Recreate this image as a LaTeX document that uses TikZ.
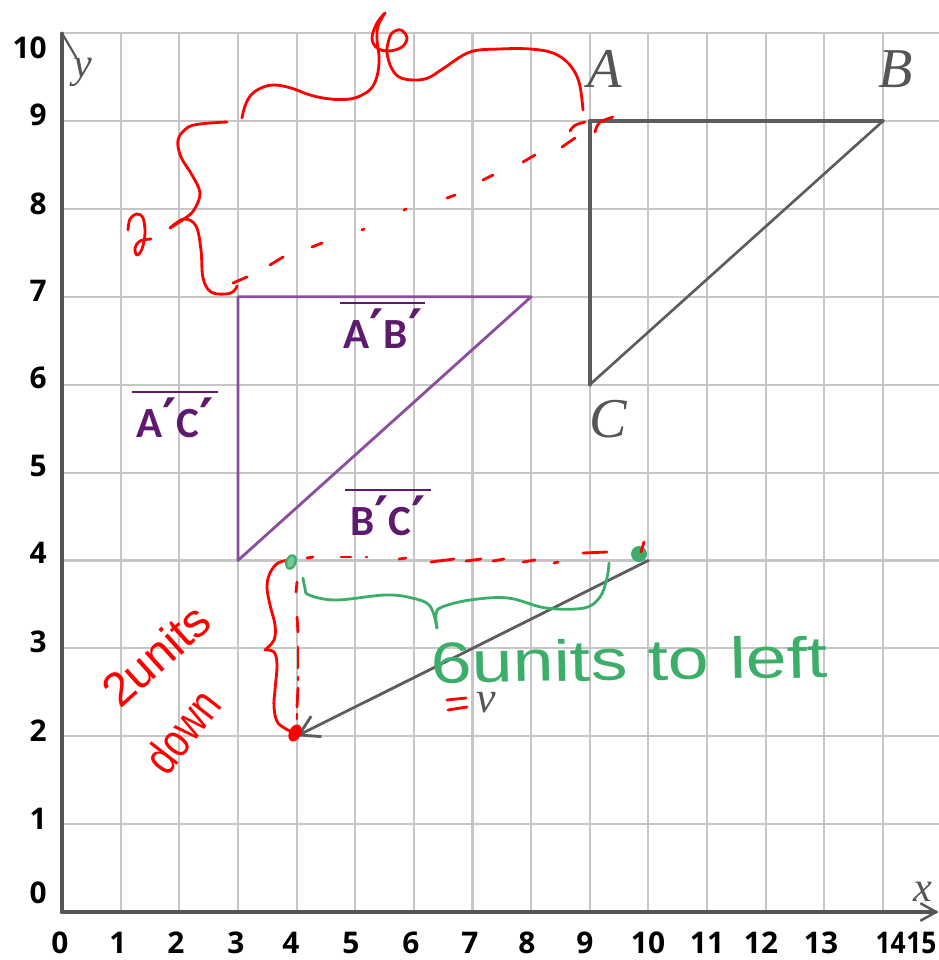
\documentclass[tikz,border=0pt]{standalone}
\usepackage{fontspec}
\setmainfont{Liberation Serif}
\newfontfamily\numfont{Open Sans}
\newfontfamily\labfont{Carlito}
\newfontfamily\primefont{DejaVu Sans}
\newfontfamily\handfont{Liberation Sans}
\newcommand{\pr}{{\primefont\bfseries\fontsize{31}{31}\selectfont ′}}
\usetikzlibrary{arrows.meta}
\definecolor{gridc}{HTML}{C6C6C6}
\definecolor{axisc}{HTML}{555555}
\definecolor{tric}{HTML}{5C5C5C}
\definecolor{purp}{HTML}{8A4E9C}
\definecolor{purpl}{HTML}{5E1A6E}
\definecolor{hred}{HTML}{FF0000}
\definecolor{hgreen}{HTML}{3DAE6A}
\begin{document}
\begin{tikzpicture}[x=0.02cm,y=-0.02cm,line cap=round,line join=round,
  gridline/.style={gridc,line width=1.2pt},
  hand/.style={hred,line width=1.6pt},
  ghand/.style={hgreen,line width=1.6pt},
  num/.style={font=\numfont\bfseries\fontsize{17}{17}\selectfont,text=black,inner sep=0pt},
  ital/.style={font=\itshape\fontsize{32}{32}\selectfont,text=axisc,inner sep=0pt},
  seglab/.style={font=\labfont\bfseries\fontsize{24.5}{24.5}\selectfont,text=purpl,inner sep=0pt,anchor=base},
  ovl/.style={purpl,line width=1.7pt,line cap=butt}]
\useasboundingbox (0,0) rectangle (939,960);
\fill[white] (0,0) rectangle (939,960);
% ---------- data frame ----------
\begin{scope}[shift={(62,912)},x=1.173cm,y=1.758cm]
  \foreach \i in {1,...,14} \draw[gridline] (\i,0) -- (\i,10);
  \foreach \j in {1,...,10} \draw[gridline] (0,\j) -- (14.95,\j);
  \coordinate (O) at (0,0);
  \coordinate (Yt) at (0,10);
  \coordinate (Xt) at (14.95,0);
  \draw[axisc,line width=1.8pt] (O) -- (Yt);
  \draw[axisc,line width=2.6pt,-{Straight Barb[length=9pt,width=10pt,line width=1.4pt]}] (O) -- (Xt);
  % triangle ABC
  \coordinate (A) at (9,9);
  \coordinate (B) at (14,9);
  \coordinate (C) at (9,6);
  \draw[tric,line width=2.2pt] (C) -- (A);
  \draw[tric,line width=2pt] (A) -- (B);
  \draw[tric,line width=1.5pt] (B) -- (C);
  % triangle A'B'C'
  \coordinate (Ap) at (3,7);
  \coordinate (Bp) at (8,7);
  \coordinate (Cp) at (3,4);
  \draw[purp,line width=1.6pt] (Ap) -- (Bp) -- (Cp) -- cycle;
  % vector v
  \coordinate (V1) at (10,4);
  \coordinate (V2) at (4,2);
  \draw[tric,line width=1.6pt,-{Straight Barb[length=11pt,width=13pt]}] (V1) -- (V2);
\end{scope}
\draw[axisc,line width=1.2pt] (Yt) -- (76,57);
% ---------- axis numbers ----------
\foreach \v/\yy in {10/48,9/115,8/204,7/291,6/378,5/466,4/553,3/642,2/731,1/819,0/893}
  \node[num,anchor=east] (ylab\v) at (47,\yy) {\v};
\foreach \v/\xx in {0/60,1/118,2/176,3/236,4/291,5/351,6/411,7/470,8/527,9/585,10/648,11/707,12/761,13/821}
  \node[num,anchor=base] (xlab\v) at (\xx,953) {\v};
\node[num,anchor=base east,xscale=0.88] (xlab14) at (906,953) {14};
\node[num,anchor=base west,xscale=0.88] (xlab15) at (906,953) {15};
% axis letters
\node[ital,font=\itshape\fontsize{24}{24}\selectfont] (ylet) at (83,72) {y};
\node[ital,font=\itshape\fontsize{24}{24}\selectfont] (xlet) at (923,892) {x};
% ---------- vertex labels ----------
\node[ital] (labA) at (605,69) {A};
\node[ital] (labB) at (896,69) {B};
\node[ital] (labC) at (608,419) {C};
\node[ital,font=\itshape\fontsize{25}{25}\selectfont] (labv) at (486,703) {v};
% ---------- segment labels ----------
\node[seglab] (lAB) at (383,348) {A\pr B\pr};
\node[seglab] (lAC) at (175,437) {A\pr C\pr};
\node[seglab] (lBC) at (388,535) {B\pr C\pr};
\draw[ovl] (340,303) -- (425,303);
\draw[ovl] (132,392) -- (218,392);
\draw[ovl] (345,490) -- (431,490);
% ---------- red handwriting: top brace and 6 ----------
\draw[hand] plot[smooth,tension=0.6] coordinates {(242,118) (245,106) (251,95) (261,88) (274,85) (291,88) (310,95) (330,99) (350,99) (364,94) (373,86) (378,72) (379,56) (377,40) (378,26) (385,13)};
\draw[hand] plot[smooth,tension=0.6] coordinates {(385,13) (377,23) (372,38) (377,48) (389,51) (402,47) (407,38) (401,30) (392,33) (388,43) (387,53) (391,67) (399,77) (413,80) (428,78) (444,68) (470,52) (500,49) (530,49) (553,53) (569,64) (579,82) (583,110)};
% left brace and 2
\draw[hand] plot[smooth,tension=0.6] coordinates {(227,122) (200,124) (187,128) (178,140) (181,157) (192,175) (200,193) (194,210) (184,219) (170,228)};
\draw[hand] plot[smooth,tension=0.6] coordinates {(170,228) (184,219) (196,226) (201,250) (203,278) (211,292) (226,294) (234,291) (237,286)};
\draw[hand] plot[smooth,tension=0.6] coordinates {(128,230) (130,219) (137,214) (143,218) (145,233) (142,249) (137,255) (135,248) (140,241) (151,239)};
% diagonal dashes A' to A
\foreach \a/\b in {{(233,283)}/{(247,277)},{(270,265)}/{(283,257)},{(312,247)}/{(322,243)},{(362,230)}/{(364,229)},{(404,210)}/{(406,209)},{(447,198)}/{(455,195)},{(483,180)}/{(493,175)},{(523,162)}/{(535,155)},{(562,147)}/{(575,138)}}
  \draw[hand] \a -- \b;
\draw[hand] (570,131) .. controls (574,125) .. (585,122);
\draw[hand] (595,132) .. controls (598,122) .. (613,117);
% ---------- red: horizontal and vertical dashes ----------
\foreach \a/\b in {{(307,558)}/{(313,557)},{(341,557)}/{(351,557)},{(366,557)}/{(367,557)},{(399,559)}/{(406,558)},{(431,562)}/{(454,559)},{(466,561)}/{(481,559)},{(493,561)}/{(504,559)},{(523,562)}/{(535,560)},{(554,563)}/{(558,562)},{(583,553)}/{(607,552)}}
  \draw[hand] \a -- \b;
\foreach \a/\b in {{(297,582)}/{(296,592)},{(297,617)}/{(298,632)},{(298,647)}/{(298,668)},{(298,677)}/{(298,680)},{(298,688)}/{(297,707)},{(297,714)}/{(297,719)}}
  \draw[hand] \a -- \b;
% red brace 2 units down
\draw[hand] plot[smooth,tension=0.6] coordinates {(290,560) (278,563) (270,573) (267,587) (270,605) (275,625) (274,640) (265,650)};
\draw[hand] plot[smooth,tension=0.6] coordinates {(265,650) (274,652) (277,665) (275,690) (274,707) (278,723) (292,732)};
\fill[hred,rotate around={-25:(295,733)}] (295,733) ellipse (6 and 9);
% ---------- green brace ----------
\draw[ghand] plot[smooth,tension=0.6] coordinates {(303,578) (305,588) (309,595) (336,600) (385,595) (412,598) (430,606) (437,628)};
\draw[ghand] plot[smooth,tension=0.6] coordinates {(437,628) (436,614) (442,607) (470,600) (508,598) (546,608) (584,608) (600,597) (607,578) (609,563)};
\filldraw[hgreen,fill=hgreen!70,line width=1.2pt,rotate around={-20:(291,562)}] (291,562) ellipse (4.5 and 7);
\fill[hgreen] (639,554) circle (8);
\draw[hand] (644,542) -- (641,552);
% ---------- handwritten texts ----------
\node[font=\handfont\fontsize{33}{33}\selectfont,text=hgreen,anchor=base west,inner sep=0pt,xscale=1.27,rotate=1] (gtext) at (431,683) {6units to left};
\node[font=\handfont\fontsize{27}{27}\selectfont,text=hred,inner sep=0pt,rotate=42] (rtext1) at (156,655) {2units};
\node[font=\handfont\fontsize{27}{27}\selectfont,text=hred,inner sep=0pt,rotate=52,xscale=0.8] (rtext2) at (182,731) {down};
\draw[hand] (447,700) -- (466,698);
\draw[hand] (448,710) -- (467,707);
\end{tikzpicture}
\end{document}
